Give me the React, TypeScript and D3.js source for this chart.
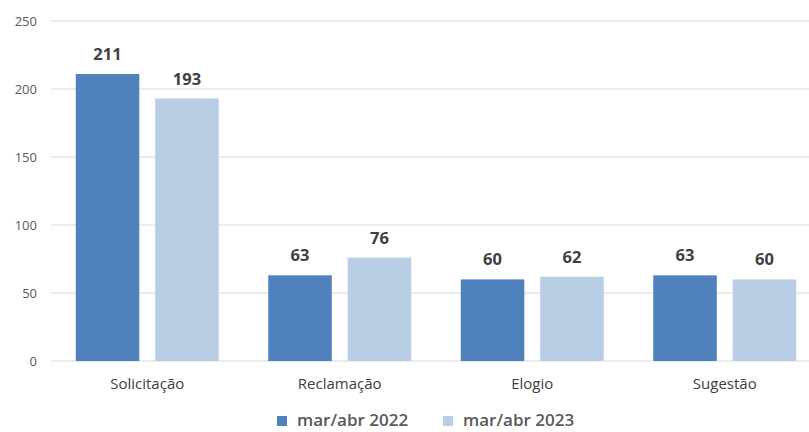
import React from "react";
import * as d3 from "d3";

const categories = ["Solicitação", "Reclamação", "Elogio", "Sugestão"];
const series2022 = [211, 63, 60, 63];
const series2023 = [193, 76, 62, 60];
const seriesNames = ["mar/abr 2022", "mar/abr 2023"];
const yTicks = [0, 50, 100, 150, 200, 250];
const colors = ["#4F81BD", "#B9CDE5"];

const W = 809;
const H = 432;
const font = "'Open Sans', 'Noto Sans', sans-serif";

export default function App() {
  const x = d3.scaleBand<string>().domain(categories).range([51, 821]).paddingInner(0).paddingOuter(0);
  const inner = d3.scaleBand<string>().domain(seriesNames).range([24.75, 192.5 - 24.75]).paddingInner(0.2);
  const y = d3.scaleLinear().domain([0, 250]).range([361, 21]);
  const data = [series2022, series2023];

  return (
    <svg width={W} height={H} style={{ position: "absolute", left: 0, top: 0, background: "#fff" }}>
      {yTicks.map((t) => (
        <g key={t}>
          <line x1={51} x2={W} y1={y(t)} y2={y(t)} stroke="#D9D9D9" strokeWidth={1} />
          <text x={37} y={y(t) + 5} textAnchor="end" fontSize={13} fill="#595959" fontFamily={font}>
            {t}
          </text>
        </g>
      ))}
      {categories.map((c, i) => (
        <g key={c}>
          {seriesNames.map((s, j) => {
            const v = data[j][i];
            const bx = (x(c) as number) + (inner(s) as number);
            const bw = inner.bandwidth();
            return (
              <g key={s}>
                <rect x={bx} y={y(v)} width={bw} height={y(0) - y(v)} fill={colors[j]} />
                <text
                  x={bx + bw / 2}
                  y={y(v) - 14}
                  textAnchor="middle"
                  fontSize={16.5}
                  fontWeight="bold"
                  fill="#404040"
                  fontFamily={font}
                >
                  {v}
                </text>
              </g>
            );
          })}
          <text
            x={(x(c) as number) + x.bandwidth() / 2}
            y={389}
            textAnchor="middle"
            fontSize={15}
            fontWeight={500}
            fill="#404040"
            fontFamily={font}
          >
            {c}
          </text>
        </g>
      ))}
      {seriesNames.map((s, j) => {
        const lx = j === 0 ? 277 : 443;
        return (
          <g key={s}>
            <rect x={lx} y={416} width={10} height={10} fill={colors[j]} />
            <text x={lx + 20} y={426} fontSize={17} fontWeight={600} fill="#595959" fontFamily={font}>
              {s}
            </text>
          </g>
        );
      })}
    </svg>
  );
}
